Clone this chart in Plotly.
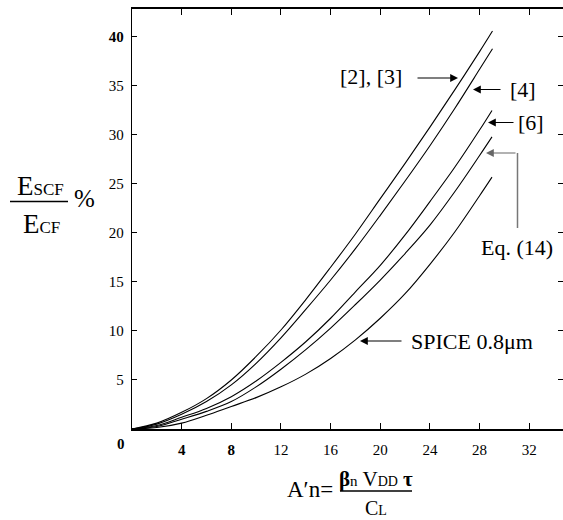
import plotly.graph_objects as go

# ---------------- data ----------------
x_grid = [0, 2, 4, 6, 8, 10, 12, 14, 16, 18, 20, 22, 24, 26, 28]

x_ref23 = x_grid + [29.04]
y_ref23 = [0, 0.6, 1.7, 3.1, 5.0, 7.4, 10.1, 13.2, 16.5, 19.9, 23.5, 27.1, 30.8, 34.6, 38.5, 40.6]

x_ref4 = x_grid + [29.04]
y_ref4 = [0, 0.5, 1.5, 2.8, 4.5, 6.7, 9.3, 12.2, 15.2, 18.4, 21.8, 25.3, 28.9, 32.7, 36.7, 38.8]

x_ref6 = x_grid + [29.0]
y_ref6 = [0, 0.35, 1.2, 2.1, 3.3, 4.9, 6.8, 8.9, 11.3, 14.0, 16.7, 19.8, 23.2, 26.7, 30.5, 32.5]

x_eq14 = x_grid + [29.0]
y_eq14 = [0, 0.25, 1.0, 1.8, 2.8, 4.3, 6.1, 8.1, 10.3, 12.7, 15.2, 17.9, 20.8, 24.2, 27.9, 29.8]

x_spice = x_grid + [29.0]
y_spice = [0, 0.15, 0.6, 1.4, 2.3, 3.2, 4.3, 5.6, 7.2, 9.1, 11.3, 13.8, 16.8, 20.1, 23.8, 25.7]

x_tickvals = [4, 8, 12, 16, 20, 24, 28, 32]
x_ticktext = ["<b>4</b>", "<b>8</b>", "12", "16", "20", "24", "28", "32"]
y_tickvals = [5, 10, 15, 20, 25, 30, 35, 40]
y_ticktext = ["5", "10", "15", "20", "25", "30", "35", "<b>40</b>"]

series = [
    (x_ref23, y_ref23),
    (x_ref4, y_ref4),
    (x_ref6, y_ref6),
    (x_eq14, y_eq14),
    (x_spice, y_spice),
]

# ---------------- layout geometry ----------------
W, H = 563, 520
L, R, T, B = 132, 0, 9, 91
PW, PH = W - L - R, H - T - B


def px(p):
    return (p - L) / PW


def py(p):
    return (H - B - p) / PH


SERIF = "Liberation Serif, Times New Roman, serif"

fig = go.Figure()
for xs, ys in series:
    fig.add_trace(go.Scatter(x=xs, y=ys, mode="lines",
                             line=dict(color="black", width=1.1, shape="spline", smoothing=1.0),
                             showlegend=False, hoverinfo="skip"))

fig.update_layout(
    width=W, height=H,
    margin=dict(l=L, r=R, t=T, b=B, pad=0),
    paper_bgcolor="white", plot_bgcolor="white",
    font=dict(family=SERIF, color="black"),
    xaxis=dict(range=[0, 34.72], showgrid=False, zeroline=False,
               showline=True, linecolor="black", linewidth=1.6, mirror="ticks",
               ticks="inside", ticklen=6, tickwidth=1, tickcolor="black",
               tickvals=x_tickvals, ticktext=x_ticktext,
               tickfont=dict(family=SERIF, size=15, color="black"),
               ticklabelstandoff=6),
    yaxis=dict(range=[0, 42.85], showgrid=False, zeroline=False,
               showline=True, linecolor="black", linewidth=1.4, mirror="ticks",
               ticks="inside", ticklen=5, tickwidth=1, tickcolor="black",
               tickvals=y_tickvals, ticktext=y_ticktext,
               tickfont=dict(family=SERIF, size=15, color="black"),
               ticklabelstandoff=4),
)

ann = []
# corner "0"
ann.append(dict(xref="paper", yref="paper", x=px(120.5), y=py(444), text="<b>0</b>",
                showarrow=False, font=dict(size=15, family=SERIF), xanchor="center", yanchor="middle"))

# curve labels
LBL = dict(size=22, family=SERIF, color="black")
labels = [
    ("[2], [3]", 338, 77),
    ("[4]", 508, 90),
    ("[6]", 516, 122),
    ("Eq. (14)", 479, 247),
    ("SPICE 0.8μm", 409, 341),
]
for t, lx, ly in labels:
    ann.append(dict(xref="paper", yref="paper", x=px(lx), y=py(ly), text=t, showarrow=False,
                    font=LBL, xanchor="left", yanchor="middle"))

# arrows (tip pixel, tail offset)
arrows = [
    (458, 78, -42, "black"),
    (473, 89.5, 29, "black"),
    (488, 122.5, 27, "black"),
    (486, 153, 31, "#666666"),
    (360, 341, 43, "black"),
]
for tx, ty, ax, col in arrows:
    ann.append(dict(xref="paper", yref="paper", x=px(tx), y=py(ty), text="",
                    showarrow=True, ax=ax, ay=0, arrowhead=2, arrowsize=1.3,
                    arrowwidth=1.2, arrowcolor=col))

# y-axis title as a fraction
ann.append(dict(xref="paper", yref="paper", x=px(40), y=py(186),
                text="E<span style='font-size:17px'>SCF</span>", showarrow=False,
                font=dict(size=27, family=SERIF), xanchor="center", yanchor="middle"))
ann.append(dict(xref="paper", yref="paper", x=px(41), y=py(224),
                text="E<span style='font-size:17px'>CF</span>", showarrow=False,
                font=dict(size=27, family=SERIF), xanchor="center", yanchor="middle"))
ann.append(dict(xref="paper", yref="paper", x=px(84), y=py(199),
                text="%", showarrow=False,
                font=dict(size=25, family=SERIF), xanchor="center", yanchor="middle"))

# x-axis title as a fraction
ann.append(dict(xref="paper", yref="paper", x=px(310), y=py(489),
                text="A′n=", showarrow=False,
                font=dict(size=23, family=SERIF), xanchor="center", yanchor="middle"))
ann.append(dict(xref="paper", yref="paper", x=px(376), y=py(479),
                text="<b>β</b><span style='font-size:15px'>n</span> V<span style='font-size:14px'>DD</span> <b>τ</b>",
                showarrow=False, font=dict(size=21, family=SERIF), xanchor="center", yanchor="middle"))
ann.append(dict(xref="paper", yref="paper", x=px(376), y=py(507.5),
                text="C<span style='font-size:14px'>L</span>", showarrow=False,
                font=dict(size=20, family=SERIF), xanchor="center", yanchor="middle"))

fig.update_layout(annotations=ann)

shapes = [
    # Eq. (14) elbow (vertical gray segment)
    dict(type="line", xref="paper", yref="paper", x0=px(517.5), x1=px(517.5), y0=py(153), y1=py(228),
         line=dict(color="#777777", width=1.5)),
    # y-title fraction bar
    dict(type="line", xref="paper", yref="paper", x0=px(10), x1=px(68), y0=py(201.5), y1=py(201.5),
         line=dict(color="black", width=1.5)),
    # x-title fraction bar
    dict(type="line", xref="paper", yref="paper", x0=px(340), x1=px(412), y0=py(491), y1=py(491),
         line=dict(color="black", width=1.5)),
]
fig.update_layout(shapes=shapes)

fig.write_html("out.html", config={"displayModeBar": False},
               post_script="document.body.style.margin='0px';document.body.style.overflow='hidden';")
